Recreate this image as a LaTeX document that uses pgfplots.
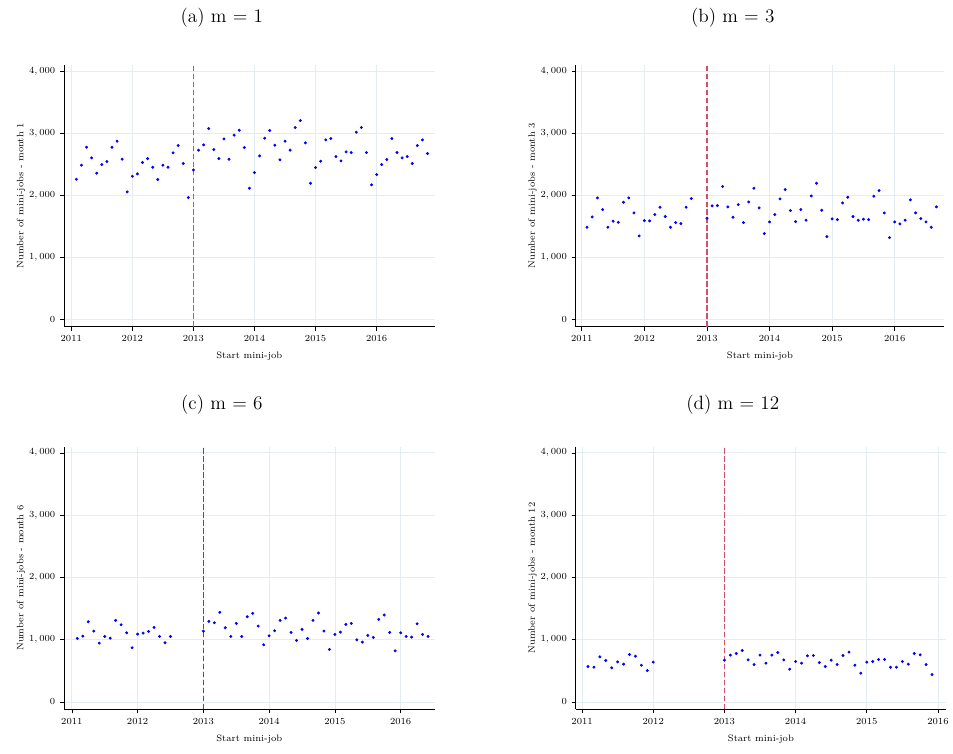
\documentclass[border=0pt]{standalone}
\usepackage{pgfplots}
\pgfplotsset{compat=1.18}
\definecolor{gridc}{RGB}{228,238,240}
\definecolor{vlinec}{RGB}{205,80,110}
\pgfplotsset{panel/.style={
  scale only axis, width=278.25pt, height=196.5pt,
  axis lines=left, axis line style={-,black,line width=0.6pt},
  ymin=-120, ymax=4100, ytick={0,1000,2000,3000,4000},
  xtick={0,12,24,36,48,60},
  xticklabels={2011,2012,2013,2014,2015,2016},
  grid=major, grid style={gridc,line width=0.6pt},
  tick style={black,line width=0.5pt}, tick align=outside, major tick length=3pt,
  ticklabel style={font=\scriptsize},
  /pgf/number format/1000 sep={{,}},
  xlabel={Start mini-job}, xlabel style={font=\scriptsize, yshift=-1pt},
  ylabel style={font=\scriptsize, yshift=-4pt},
}}
\pgfplotsset{pts/.style={only marks, mark=*, mark size=0.9pt, color=blue}}
\pgfplotsset{vl/.style={no marks, color=vlinec, dash pattern=on 4pt off 2pt, line width=0.9pt}}
\begin{document}
\begin{tikzpicture}
\path (0,0) rectangle (714.75pt,565.5pt);
\node[font=\Large] at (166.5pt,552pt) {(a) m = 1};
\node[font=\Large] at (550pt,552pt) {(b) m = 3};
\node[font=\Large] at (166.5pt,261.75pt) {(c) m = 6};
\node[font=\Large] at (550pt,261.75pt) {(d) m = 12};
\begin{axis}[panel, at={(48pt,320.25pt)}, anchor=south west, xmin=-1.44, xmax=71.4, ylabel={Number of mini-jobs - month 1}]
\addplot[pts] table[x=k, y=v] {
k v
1 2258
2 2484
3 2774
4 2602
5 2355
6 2494
7 2543
8 2774
9 2871
10 2580
11 2054
12 2306
13 2344
14 2527
15 2591
16 2451
17 2253
18 2484
19 2451
20 2683
21 2801
22 2511
23 1962
24 2408
25 2726
26 2812
27 3075
28 2736
29 2591
30 2908
31 2580
32 2968
33 3048
34 2769
35 2113
36 2365
37 2634
38 2919
39 3043
40 2806
41 2570
42 2871
43 2726
44 3091
45 3204
46 2844
47 2193
48 2446
49 2548
50 2892
51 2914
52 2623
53 2554
54 2699
55 2688
56 3016
57 3091
58 2688
59 2167
60 2333
61 2494
62 2575
63 2914
64 2688
65 2602
66 2623
67 2511
68 2801
69 2892
70 2672
};
\addplot[vl] coordinates {(24,-120) (24,4100)};
\end{axis}
\begin{axis}[panel, width=276.75pt, at={(432pt,320.25pt)}, anchor=south west, xmin=-1.2, xmax=69.5, ylabel={Number of mini-jobs - month 3}]
\addplot[pts] table[x=k, y=v] {
k v
1 1484
2 1650
3 1957
4 1769
5 1484
6 1581
7 1564
8 1887
9 1957
10 1715
11 1344
12 1591
13 1586
14 1688
15 1806
16 1656
17 1484
18 1559
19 1543
20 1806
21 1946
24 1629
25 1828
26 1833
27 2140
28 1812
29 1645
30 1849
31 1559
32 1892
33 2113
34 1796
35 1382
36 1570
37 1688
38 1941
39 2091
40 1753
41 1575
42 1769
43 1597
44 1989
45 2193
46 1758
47 1333
48 1618
49 1607
50 1876
51 1968
52 1656
53 1597
54 1613
55 1607
56 1984
57 2075
58 1715
59 1317
60 1570
61 1538
62 1597
63 1925
64 1715
65 1624
66 1570
67 1484
68 1812
};
\addplot[vl] coordinates {(24,-120) (24,4100)};
\end{axis}
\begin{axis}[panel, height=197.25pt, at={(48pt,33pt)}, anchor=south west, xmin=-1.44, xmax=66.2, ylabel={Number of mini-jobs - month 6}]
\addplot[pts] table[x=k, y=v] {
k v
1 1020
2 1057
3 1288
4 1138
5 945
6 1052
7 1025
8 1310
9 1240
10 1111
11 870
12 1090
13 1106
14 1133
15 1197
16 1052
17 950
18 1052
24 1138
25 1294
26 1272
27 1439
28 1192
29 1052
30 1261
31 1052
32 1369
33 1423
34 1219
35 918
36 1063
37 1143
38 1310
39 1347
40 1117
41 988
42 1165
43 1020
44 1310
45 1428
46 1138
47 843
48 1084
49 1122
50 1245
51 1261
52 998
53 961
54 1068
55 1036
56 1326
57 1396
58 1117
59 821
60 1111
61 1052
62 1041
63 1256
64 1084
65 1052
};
\addplot[vl, color=vlinec!70!black] coordinates {(24,-120) (24,4100)};
\end{axis}
\begin{axis}[panel, height=197.25pt, at={(432pt,33pt)}, anchor=south west, xmin=-1.1, xmax=61.4, ylabel={Number of mini-jobs - month 12}]
\addplot[pts] table[x=k, y=v] {
k v
1 569
2 558
3 725
4 666
5 548
6 644
7 607
8 762
9 735
10 590
11 505
12 639
24 671
25 752
26 778
27 827
28 676
29 601
30 752
31 623
32 752
33 794
34 676
35 526
36 650
37 623
38 741
39 746
40 633
41 569
42 671
43 601
44 746
45 800
46 590
47 462
48 639
49 650
50 682
51 682
52 558
53 558
54 650
55 607
56 778
57 757
58 601
59 440
};
\addplot[vl] coordinates {(24,-120) (24,4100)};
\end{axis}
\end{tikzpicture}
\end{document}
